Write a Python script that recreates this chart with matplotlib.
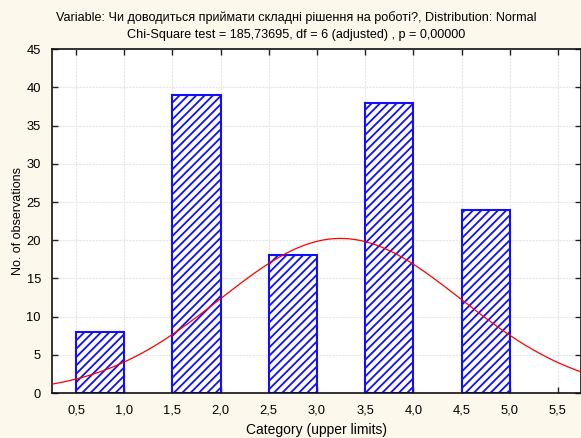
import numpy as np
import matplotlib.pyplot as plt

plt.rcParams['font.family'] = ['Liberation Sans', 'DejaVu Sans']

# categories (upper limits) and observed counts
upper_limits = [1.0, 2.0, 3.0, 4.0, 5.0]
counts = [8, 39, 18, 38, 24]
bin_width = 0.5

# fitted normal: mean and sd of the variable, N observations
fit_mean = 3.244
fit_sd = 1.252
n_obs = 127

title = ("Variable: Чи доводиться приймати складні рішення на роботі?, Distribution: Normal\n"
         "Chi-Square test = 185,73695, df = 6 (adjusted) , p = 0,00000")
xticks = [0.5, 1.0, 1.5, 2.0, 2.5, 3.0, 3.5, 4.0, 4.5, 5.0, 5.5]
yticks = list(range(0, 50, 5))

bg = '#fcf8ec'
fig = plt.figure(figsize=(5.81, 4.38), dpi=100, facecolor=bg)
ax = fig.add_axes([0.0895, 0.1027, 0.9105, 0.785])
ax.set_facecolor('white')

plt.rcParams['hatch.color'] = '#1010ff'
plt.rcParams['hatch.linewidth'] = 1.3
lefts = [u - bin_width for u in upper_limits]
ax.bar(lefts, counts, width=bin_width, align='edge', facecolor='white',
       edgecolor='#1010ff', linewidth=1.5, hatch='////', zorder=2)

xs = np.linspace(0.25, 5.75, 300)
ys = n_obs * bin_width / (fit_sd * np.sqrt(2 * np.pi)) * np.exp(-0.5 * ((xs - fit_mean) / fit_sd) ** 2)
ax.plot(xs, ys, color='#ff0000', linewidth=0.9, zorder=3)

ax.set_xlim(0.25, 5.74)
ax.set_ylim(0, 45)
ax.set_xticks(xticks)
ax.set_xticklabels([f"{t:.1f}".replace('.', ',') for t in xticks])
ax.set_yticks(yticks)
ax.grid(True, color='#e6e6e6', linestyle=(0, (2, 1)), linewidth=0.8, zorder=0)
ax.tick_params(direction='in', length=4, width=1, labelsize=9.3, top=True, right=True,
               pad=8, color='#222222')
for s in ax.spines.values():
    s.set_linewidth(1.2)
    s.set_color('#111111')

ax.set_xlabel("Category (upper limits)", fontsize=10, labelpad=5)
ax.set_ylabel("No. of observations", fontsize=9, labelpad=2)
fig.text(0.51, 1 - 26 / 438, title, fontsize=9.1, ha='center', va='center', linespacing=1.5)

fig.savefig('out.png', dpi=100, facecolor=bg)
